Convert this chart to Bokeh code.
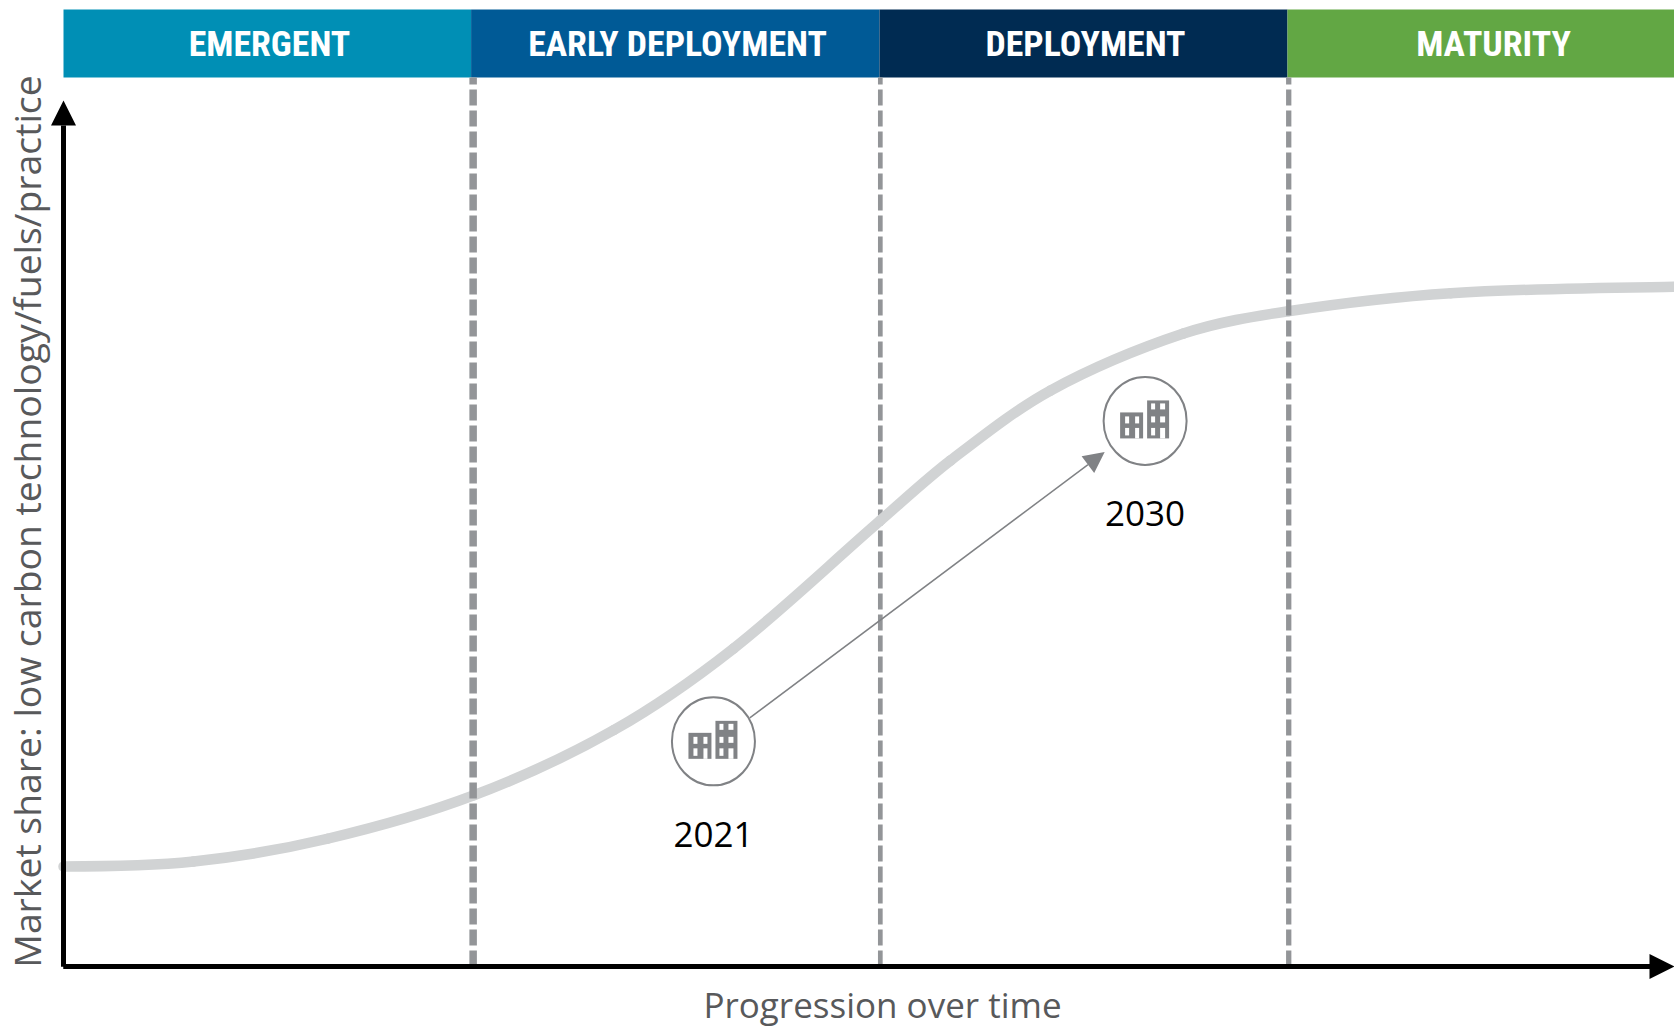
from math import pi
from bokeh.plotting import figure
from bokeh.models import Arrow, NormalHead, Label, Range1d, LinearAxis, FixedTicker
from bokeh.core.properties import value
from bokeh.embed import file_html
from bokeh.resources import INLINE

# ---- data (x: stages elapsed, y: market share index) ----
stages = ["EMERGENT", "EARLY DEPLOYMENT", "DEPLOYMENT", "MATURITY"]
stage_colors = ["#008fb5", "#005a96", "#002b52", "#62a744"]
boundaries = [1.004, 2.002, 3.003]
boundary_widths = [7.5, 4.7, 5.3]

curve_x = [0, 0.319, 0.647, 1.005, 1.349, 1.642, 2.002, 2.174, 2.419, 2.745, 3.002, 3.4, 3.948]
curve_y = [11.55, 12.12, 14.75, 19.75, 27.31, 36.72, 51.5, 58.43, 66.51, 73.09, 75.67, 77.75, 78.48]

years = ["2021", "2030"]
year_x = [1.593, 2.651]
year_y = [26.0, 63.0]

arrow_from = (1.682, 28.7)
arrow_to = (2.552, 59.4)

x_title = "Progression over time"
y_title = "Market share: low carbon technology/fuels/practice"

# ---- layout ----
W, H = 1674, 1027
LEFT, BOTTOM = 63, 966          # page pixels of the origin
PX_X, PX_Y = 408.0, 8.66        # pixels per unit
x0, x1 = -LEFT / PX_X, (W - LEFT) / PX_X
y0, y1 = (BOTTOM - H) / PX_Y, BOTTOM / PX_Y
dx = lambda px: px / PX_X
dy = lambda px: px / PX_Y

p = figure(width=W, height=H, output_backend="svg", toolbar_location=None,
           x_range=Range1d(x0, x1), y_range=Range1d(y0, y1),
           x_axis_location=None, y_axis_location=None,
           min_border=0)
p.grid.visible = False
p.outline_line_color = None
for ax, side in ((LinearAxis(fixed_location=0, bounds=(0, x1 - dx(20))), "below"),
                 (LinearAxis(fixed_location=0, bounds=(0, 95)), "left")):
    ax.ticker = FixedTicker(ticks=[])
    ax.axis_line_color = "black"
    ax.axis_line_width = 5
    ax.major_tick_in = 0
    ax.major_tick_out = 0
    ax.minor_tick_in = 0
    ax.minor_tick_out = 0
    ax.major_label_standoff = 0
    p.add_layout(ax, side)

# stage bands
band_top, band_bot = (BOTTOM - 9) / PX_Y, (BOTTOM - 77) / PX_Y
p.quad(left=[0, 0.999, 2.0, 3.0], right=[0.999, 2.0, 3.0, 4.0],
       top=band_top, bottom=band_bot, fill_color=stage_colors, line_color=None)
p.text(x=[0.5 + dx(2), 1.5 + dx(2), 2.5 + dx(2), 3.5 + dx(2)], y=[(band_top + band_bot) / 2] * 4, text=stages,
       text_color="white", text_align="center", text_baseline="middle",
       text_font=value("'Roboto Condensed', Roboto"), text_font_style="bold", text_font_size="35.8px")


def boundary(i):
    p.line([boundaries[i]] * 2, [0, band_bot], line_color="#939598",
           line_width=boundary_widths[i], line_dash="16 5")


# the middle boundary runs under the curve, the other two over it
boundary(1)

# S-curve: cubic Hermite segments through the read points
n = len(curve_x)
slopes = [0.0] * n
for i in range(1, n - 1):
    slopes[i] = (curve_y[i + 1] - curve_y[i - 1]) / (curve_x[i + 1] - curve_x[i - 1])
slopes[-1] = (curve_y[-1] - curve_y[-2]) / (curve_x[-1] - curve_x[-2]) / 2
cx0, cy0, cx1, cy1 = [], [], [], []
for i in range(n - 1):
    h = (curve_x[i + 1] - curve_x[i]) / 3
    cx0.append(curve_x[i] + h)
    cy0.append(curve_y[i] + slopes[i] * h)
    cx1.append(curve_x[i + 1] - h)
    cy1.append(curve_y[i + 1] - slopes[i + 1] * h)
p.bezier(x0=curve_x[:-1], y0=curve_y[:-1], x1=curve_x[1:], y1=curve_y[1:],
         cx0=cx0, cy0=cy0, cx1=cx1, cy1=cy1,
         line_color="#d1d3d4", line_width=10.5, line_cap="round")

boundary(0)
boundary(2)

# gray arrow between years
p.add_layout(Arrow(x_start=arrow_from[0], y_start=arrow_from[1], x_end=arrow_to[0], y_end=arrow_to[1],
                   line_color="#808285", line_width=1.5,
                   end=NormalHead(size=21, fill_color="#808285", line_color="#808285", line_width=0)))

# markers with building icons (pixel offsets from centre, y downward)
GRAY = "#808285"
solid = [(-25, -2, -8.5, 17.5), (2, 24, -20.5, 17.5)]
windows = [(-20, -16, -4.5, 2.5), (-10, -6, -4.5, 2.5), (-20, -16, 7, 14.5), (-10, -6, 7, 17.5),
           (6, 10, -17.5, -11.5), (15, 20, -17.5, -11.5), (6, 10, -4.5, 1.5), (15, 20, -4.5, 1.5),
           (6, 10, 7, 14.5), (15, 20, 7, 17.5)]
p.ellipse(x=year_x, y=year_y, width=dx(83), height=dy(88), fill_color="white",
          line_color=GRAY, line_width=2)
for cx, cy in zip(year_x, year_y):
    for rects, col in ((solid, GRAY), (windows, "white")):
        p.quad(left=[cx + dx(r[0]) for r in rects], right=[cx + dx(r[1]) for r in rects],
               top=[cy - dy(r[2]) for r in rects], bottom=[cy - dy(r[3]) for r in rects],
               fill_color=col, line_color=None)

# year labels
p.text(x=year_x, y=[v - dy(93) for v in year_y], text=years, text_color="black",
       text_align="center", text_baseline="middle",
       text_font=value("Open Sans"), text_font_size="35px")

# axis arrows
for xs, ys, xe, ye in ((0, 0, 0, 100), (0, 0, x1, 0)):
    p.add_layout(Arrow(x_start=xs, y_start=ys, x_end=xe, y_end=ye, line_color="black", line_width=5,
                       end=NormalHead(size=25, fill_color="black", line_color="black", line_width=0)))

# axis titles
p.add_layout(Label(x=dx(882 - LEFT), y=-dy(1004 - BOTTOM), text=x_title, text_align="center",
                   text_baseline="middle", text_color="#58595b",
                   text_font="Open Sans", text_font_size="35px"))
p.add_layout(Label(x=-dx(LEFT - 26), y=dy(BOTTOM - 521), text=y_title, angle=pi / 2, text_align="center",
                   text_baseline="middle", text_color="#58595b",
                   text_font="Open Sans", text_font_size="37.3px"))

open("out.html", "w").write(file_html(p, INLINE))
